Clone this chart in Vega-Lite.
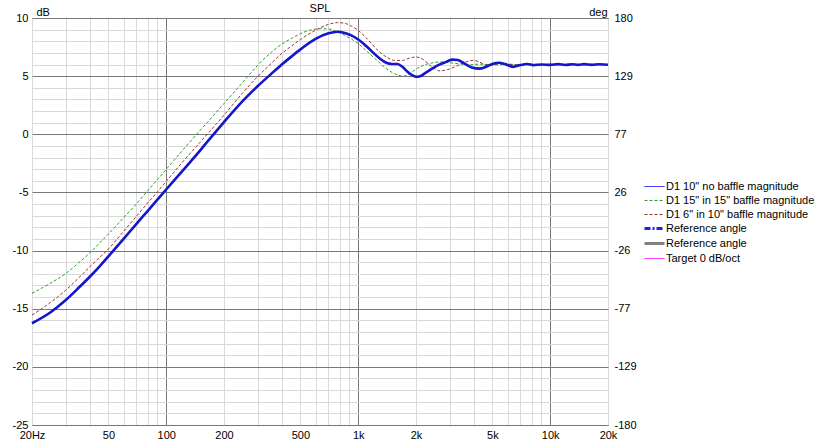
{
  "$schema": "https://vega.github.io/schema/vega-lite/v6.json",
  "width": 576,
  "height": 407,
  "autosize": {"type": "none"},
  "padding": {"left": 32, "top": 18, "right": 216, "bottom": 20},
  "background": "white",
  "title": {"text": "SPL", "fontSize": 11, "fontWeight": "normal", "font": "Liberation Sans", "color": "#000000", "anchor": "middle", "frame": "group", "offset": -17, "baseline": "alphabetic"},
  "config": {
    "font": "Liberation Sans",
    "view": {"stroke": "#6e6e6e", "strokeWidth": 1},
    "axis": {"labelFont": "Liberation Sans", "labelFontSize": 11, "labelColor": "#000000", "titleFont": "Liberation Sans", "titleFontSize": 11, "titleFontWeight": "normal", "titleColor": "#000000", "ticks": false, "domain": false, "gridWidth": 1, "gridOpacity": 1},
    "legend": {"labelFont": "Liberation Sans", "labelFontSize": 11, "labelColor": "#000000"}
  },
  "data": {"values": [
    {"series": "D1 10\" no baffle magnitude", "f": 20, "dB": -16.25},
    {"series": "D1 10\" no baffle magnitude", "f": 25, "dB": -15.3},
    {"series": "D1 10\" no baffle magnitude", "f": 30, "dB": -14.25},
    {"series": "D1 10\" no baffle magnitude", "f": 35, "dB": -13.2},
    {"series": "D1 10\" no baffle magnitude", "f": 40, "dB": -12.25},
    {"series": "D1 10\" no baffle magnitude", "f": 45, "dB": -11.35},
    {"series": "D1 10\" no baffle magnitude", "f": 50, "dB": -10.5},
    {"series": "D1 10\" no baffle magnitude", "f": 60, "dB": -9.0},
    {"series": "D1 10\" no baffle magnitude", "f": 70, "dB": -7.7},
    {"series": "D1 10\" no baffle magnitude", "f": 80, "dB": -6.6},
    {"series": "D1 10\" no baffle magnitude", "f": 90, "dB": -5.62},
    {"series": "D1 10\" no baffle magnitude", "f": 100, "dB": -4.75},
    {"series": "D1 10\" no baffle magnitude", "f": 120, "dB": -3.25},
    {"series": "D1 10\" no baffle magnitude", "f": 150, "dB": -1.4},
    {"series": "D1 10\" no baffle magnitude", "f": 165, "dB": -0.58},
    {"series": "D1 10\" no baffle magnitude", "f": 200, "dB": 1.05},
    {"series": "D1 10\" no baffle magnitude", "f": 250, "dB": 2.85},
    {"series": "D1 10\" no baffle magnitude", "f": 300, "dB": 4.15},
    {"series": "D1 10\" no baffle magnitude", "f": 350, "dB": 5.15},
    {"series": "D1 10\" no baffle magnitude", "f": 400, "dB": 6.0},
    {"series": "D1 10\" no baffle magnitude", "f": 450, "dB": 6.7},
    {"series": "D1 10\" no baffle magnitude", "f": 500, "dB": 7.3},
    {"series": "D1 10\" no baffle magnitude", "f": 600, "dB": 8.2},
    {"series": "D1 10\" no baffle magnitude", "f": 700, "dB": 8.68},
    {"series": "D1 10\" no baffle magnitude", "f": 780, "dB": 8.82},
    {"series": "D1 10\" no baffle magnitude", "f": 850, "dB": 8.72},
    {"series": "D1 10\" no baffle magnitude", "f": 920, "dB": 8.5},
    {"series": "D1 10\" no baffle magnitude", "f": 1000, "dB": 8.15},
    {"series": "D1 10\" no baffle magnitude", "f": 1100, "dB": 7.6},
    {"series": "D1 10\" no baffle magnitude", "f": 1200, "dB": 7.0},
    {"series": "D1 10\" no baffle magnitude", "f": 1300, "dB": 6.5},
    {"series": "D1 10\" no baffle magnitude", "f": 1400, "dB": 6.15},
    {"series": "D1 10\" no baffle magnitude", "f": 1500, "dB": 6.05},
    {"series": "D1 10\" no baffle magnitude", "f": 1600, "dB": 6.05},
    {"series": "D1 10\" no baffle magnitude", "f": 1700, "dB": 5.8},
    {"series": "D1 10\" no baffle magnitude", "f": 1800, "dB": 5.4},
    {"series": "D1 10\" no baffle magnitude", "f": 1900, "dB": 5.1},
    {"series": "D1 10\" no baffle magnitude", "f": 2000, "dB": 4.95},
    {"series": "D1 10\" no baffle magnitude", "f": 2100, "dB": 5.0},
    {"series": "D1 10\" no baffle magnitude", "f": 2250, "dB": 5.3},
    {"series": "D1 10\" no baffle magnitude", "f": 2400, "dB": 5.6},
    {"series": "D1 10\" no baffle magnitude", "f": 2550, "dB": 5.87},
    {"series": "D1 10\" no baffle magnitude", "f": 2800, "dB": 6.15},
    {"series": "D1 10\" no baffle magnitude", "f": 3100, "dB": 6.42},
    {"series": "D1 10\" no baffle magnitude", "f": 3300, "dB": 6.38},
    {"series": "D1 10\" no baffle magnitude", "f": 3600, "dB": 6.05},
    {"series": "D1 10\" no baffle magnitude", "f": 3900, "dB": 5.75},
    {"series": "D1 10\" no baffle magnitude", "f": 4300, "dB": 5.65},
    {"series": "D1 10\" no baffle magnitude", "f": 4700, "dB": 5.85},
    {"series": "D1 10\" no baffle magnitude", "f": 5000, "dB": 6.05},
    {"series": "D1 10\" no baffle magnitude", "f": 5400, "dB": 6.15},
    {"series": "D1 10\" no baffle magnitude", "f": 5800, "dB": 6.05},
    {"series": "D1 10\" no baffle magnitude", "f": 6400, "dB": 5.8},
    {"series": "D1 10\" no baffle magnitude", "f": 7000, "dB": 5.95},
    {"series": "D1 10\" no baffle magnitude", "f": 7550, "dB": 6.05},
    {"series": "D1 10\" no baffle magnitude", "f": 8200, "dB": 5.95},
    {"series": "D1 10\" no baffle magnitude", "f": 9000, "dB": 6.0},
    {"series": "D1 10\" no baffle magnitude", "f": 10000, "dB": 5.97},
    {"series": "D1 10\" no baffle magnitude", "f": 11000, "dB": 6.03},
    {"series": "D1 10\" no baffle magnitude", "f": 12000, "dB": 5.96},
    {"series": "D1 10\" no baffle magnitude", "f": 13000, "dB": 6.02},
    {"series": "D1 10\" no baffle magnitude", "f": 14000, "dB": 5.97},
    {"series": "D1 10\" no baffle magnitude", "f": 15000, "dB": 6.03},
    {"series": "D1 10\" no baffle magnitude", "f": 16500, "dB": 5.97},
    {"series": "D1 10\" no baffle magnitude", "f": 18000, "dB": 6.02},
    {"series": "D1 10\" no baffle magnitude", "f": 20000, "dB": 5.98},

    {"series": "D1 15\" in 15\" baffle magnitude", "f": 20, "dB": -13.67},
    {"series": "D1 15\" in 15\" baffle magnitude", "f": 25, "dB": -12.8},
    {"series": "D1 15\" in 15\" baffle magnitude", "f": 30, "dB": -11.97},
    {"series": "D1 15\" in 15\" baffle magnitude", "f": 35, "dB": -11.05},
    {"series": "D1 15\" in 15\" baffle magnitude", "f": 40, "dB": -10.2},
    {"series": "D1 15\" in 15\" baffle magnitude", "f": 45, "dB": -9.35},
    {"series": "D1 15\" in 15\" baffle magnitude", "f": 50, "dB": -8.58},
    {"series": "D1 15\" in 15\" baffle magnitude", "f": 55, "dB": -7.85},
    {"series": "D1 15\" in 15\" baffle magnitude", "f": 60, "dB": -7.17},
    {"series": "D1 15\" in 15\" baffle magnitude", "f": 70, "dB": -5.98},
    {"series": "D1 15\" in 15\" baffle magnitude", "f": 80, "dB": -4.86},
    {"series": "D1 15\" in 15\" baffle magnitude", "f": 90, "dB": -3.9},
    {"series": "D1 15\" in 15\" baffle magnitude", "f": 100, "dB": -3.02},
    {"series": "D1 15\" in 15\" baffle magnitude", "f": 120, "dB": -1.5},
    {"series": "D1 15\" in 15\" baffle magnitude", "f": 144, "dB": 0.0},
    {"series": "D1 15\" in 15\" baffle magnitude", "f": 175, "dB": 1.55},
    {"series": "D1 15\" in 15\" baffle magnitude", "f": 200, "dB": 2.65},
    {"series": "D1 15\" in 15\" baffle magnitude", "f": 235, "dB": 3.95},
    {"series": "D1 15\" in 15\" baffle magnitude", "f": 267, "dB": 5.0},
    {"series": "D1 15\" in 15\" baffle magnitude", "f": 300, "dB": 5.95},
    {"series": "D1 15\" in 15\" baffle magnitude", "f": 350, "dB": 7.0},
    {"series": "D1 15\" in 15\" baffle magnitude", "f": 400, "dB": 7.75},
    {"series": "D1 15\" in 15\" baffle magnitude", "f": 450, "dB": 8.25},
    {"series": "D1 15\" in 15\" baffle magnitude", "f": 500, "dB": 8.65},
    {"series": "D1 15\" in 15\" baffle magnitude", "f": 560, "dB": 8.95},
    {"series": "D1 15\" in 15\" baffle magnitude", "f": 640, "dB": 9.08},
    {"series": "D1 15\" in 15\" baffle magnitude", "f": 700, "dB": 9.05},
    {"series": "D1 15\" in 15\" baffle magnitude", "f": 780, "dB": 8.8},
    {"series": "D1 15\" in 15\" baffle magnitude", "f": 850, "dB": 8.5},
    {"series": "D1 15\" in 15\" baffle magnitude", "f": 920, "dB": 8.2},
    {"series": "D1 15\" in 15\" baffle magnitude", "f": 1000, "dB": 7.8},
    {"series": "D1 15\" in 15\" baffle magnitude", "f": 1100, "dB": 7.2},
    {"series": "D1 15\" in 15\" baffle magnitude", "f": 1250, "dB": 6.36},
    {"series": "D1 15\" in 15\" baffle magnitude", "f": 1400, "dB": 5.65},
    {"series": "D1 15\" in 15\" baffle magnitude", "f": 1550, "dB": 5.2},
    {"series": "D1 15\" in 15\" baffle magnitude", "f": 1720, "dB": 5.0},
    {"series": "D1 15\" in 15\" baffle magnitude", "f": 1850, "dB": 5.2},
    {"series": "D1 15\" in 15\" baffle magnitude", "f": 2000, "dB": 5.6},
    {"series": "D1 15\" in 15\" baffle magnitude", "f": 2200, "dB": 5.95},
    {"series": "D1 15\" in 15\" baffle magnitude", "f": 2450, "dB": 6.15},
    {"series": "D1 15\" in 15\" baffle magnitude", "f": 2670, "dB": 6.22},
    {"series": "D1 15\" in 15\" baffle magnitude", "f": 3000, "dB": 6.15},
    {"series": "D1 15\" in 15\" baffle magnitude", "f": 3400, "dB": 6.05},
    {"series": "D1 15\" in 15\" baffle magnitude", "f": 3800, "dB": 5.98},
    {"series": "D1 15\" in 15\" baffle magnitude", "f": 4300, "dB": 6.03},
    {"series": "D1 15\" in 15\" baffle magnitude", "f": 5000, "dB": 5.97},
    {"series": "D1 15\" in 15\" baffle magnitude", "f": 6000, "dB": 6.02},
    {"series": "D1 15\" in 15\" baffle magnitude", "f": 7000, "dB": 5.98},
    {"series": "D1 15\" in 15\" baffle magnitude", "f": 8000, "dB": 6.02},
    {"series": "D1 15\" in 15\" baffle magnitude", "f": 10000, "dB": 5.98},
    {"series": "D1 15\" in 15\" baffle magnitude", "f": 12500, "dB": 6.02},
    {"series": "D1 15\" in 15\" baffle magnitude", "f": 16000, "dB": 5.98},
    {"series": "D1 15\" in 15\" baffle magnitude", "f": 20000, "dB": 6.0},

    {"series": "D1 6\" in 10\" baffle magnitude", "f": 20, "dB": -15.55},
    {"series": "D1 6\" in 10\" baffle magnitude", "f": 25, "dB": -14.45},
    {"series": "D1 6\" in 10\" baffle magnitude", "f": 30, "dB": -13.4},
    {"series": "D1 6\" in 10\" baffle magnitude", "f": 35, "dB": -12.35},
    {"series": "D1 6\" in 10\" baffle magnitude", "f": 40, "dB": -11.4},
    {"series": "D1 6\" in 10\" baffle magnitude", "f": 45, "dB": -10.6},
    {"series": "D1 6\" in 10\" baffle magnitude", "f": 50, "dB": -9.86},
    {"series": "D1 6\" in 10\" baffle magnitude", "f": 60, "dB": -8.35},
    {"series": "D1 6\" in 10\" baffle magnitude", "f": 70, "dB": -7.05},
    {"series": "D1 6\" in 10\" baffle magnitude", "f": 80, "dB": -5.92},
    {"series": "D1 6\" in 10\" baffle magnitude", "f": 90, "dB": -4.95},
    {"series": "D1 6\" in 10\" baffle magnitude", "f": 100, "dB": -4.05},
    {"series": "D1 6\" in 10\" baffle magnitude", "f": 120, "dB": -2.5},
    {"series": "D1 6\" in 10\" baffle magnitude", "f": 150, "dB": -0.7},
    {"series": "D1 6\" in 10\" baffle magnitude", "f": 175, "dB": 0.55},
    {"series": "D1 6\" in 10\" baffle magnitude", "f": 200, "dB": 1.65},
    {"series": "D1 6\" in 10\" baffle magnitude", "f": 250, "dB": 3.55},
    {"series": "D1 6\" in 10\" baffle magnitude", "f": 301, "dB": 5.0},
    {"series": "D1 6\" in 10\" baffle magnitude", "f": 350, "dB": 6.05},
    {"series": "D1 6\" in 10\" baffle magnitude", "f": 400, "dB": 6.95},
    {"series": "D1 6\" in 10\" baffle magnitude", "f": 450, "dB": 7.6},
    {"series": "D1 6\" in 10\" baffle magnitude", "f": 500, "dB": 8.15},
    {"series": "D1 6\" in 10\" baffle magnitude", "f": 600, "dB": 8.95},
    {"series": "D1 6\" in 10\" baffle magnitude", "f": 700, "dB": 9.45},
    {"series": "D1 6\" in 10\" baffle magnitude", "f": 780, "dB": 9.6},
    {"series": "D1 6\" in 10\" baffle magnitude", "f": 850, "dB": 9.55},
    {"series": "D1 6\" in 10\" baffle magnitude", "f": 920, "dB": 9.3},
    {"series": "D1 6\" in 10\" baffle magnitude", "f": 1000, "dB": 8.94},
    {"series": "D1 6\" in 10\" baffle magnitude", "f": 1100, "dB": 8.3},
    {"series": "D1 6\" in 10\" baffle magnitude", "f": 1250, "dB": 7.3},
    {"series": "D1 6\" in 10\" baffle magnitude", "f": 1400, "dB": 6.65},
    {"series": "D1 6\" in 10\" baffle magnitude", "f": 1550, "dB": 6.35},
    {"series": "D1 6\" in 10\" baffle magnitude", "f": 1700, "dB": 6.35},
    {"series": "D1 6\" in 10\" baffle magnitude", "f": 1850, "dB": 6.55},
    {"series": "D1 6\" in 10\" baffle magnitude", "f": 2000, "dB": 6.65},
    {"series": "D1 6\" in 10\" baffle magnitude", "f": 2150, "dB": 6.5},
    {"series": "D1 6\" in 10\" baffle magnitude", "f": 2400, "dB": 5.85},
    {"series": "D1 6\" in 10\" baffle magnitude", "f": 2670, "dB": 5.45},
    {"series": "D1 6\" in 10\" baffle magnitude", "f": 2900, "dB": 5.55},
    {"series": "D1 6\" in 10\" baffle magnitude", "f": 3260, "dB": 5.87},
    {"series": "D1 6\" in 10\" baffle magnitude", "f": 3600, "dB": 6.2},
    {"series": "D1 6\" in 10\" baffle magnitude", "f": 3980, "dB": 6.36},
    {"series": "D1 6\" in 10\" baffle magnitude", "f": 4300, "dB": 6.2},
    {"series": "D1 6\" in 10\" baffle magnitude", "f": 4670, "dB": 5.94},
    {"series": "D1 6\" in 10\" baffle magnitude", "f": 5000, "dB": 5.95},
    {"series": "D1 6\" in 10\" baffle magnitude", "f": 5500, "dB": 6.1},
    {"series": "D1 6\" in 10\" baffle magnitude", "f": 6000, "dB": 6.05},
    {"series": "D1 6\" in 10\" baffle magnitude", "f": 6800, "dB": 5.95},
    {"series": "D1 6\" in 10\" baffle magnitude", "f": 7600, "dB": 6.05},
    {"series": "D1 6\" in 10\" baffle magnitude", "f": 8500, "dB": 5.98},
    {"series": "D1 6\" in 10\" baffle magnitude", "f": 10000, "dB": 6.02},
    {"series": "D1 6\" in 10\" baffle magnitude", "f": 12500, "dB": 5.98},
    {"series": "D1 6\" in 10\" baffle magnitude", "f": 16000, "dB": 6.02},
    {"series": "D1 6\" in 10\" baffle magnitude", "f": 20000, "dB": 5.99}
  ]},
  "layer": [
    {
      "mark": {"type": "line", "strokeWidth": 1, "interpolate": "monotone"},
      "encoding": {
        "x": {
          "field": "f", "type": "quantitative",
          "scale": {"type": "log", "domain": [20, 20000], "nice": false},
          "axis": {
            "title": null,
            "values": [20, 30, 40, 50, 60, 70, 80, 90, 100, 200, 300, 400, 500, 600, 700, 800, 900, 1000, 2000, 3000, 4000, 5000, 6000, 7000, 8000, 9000, 10000, 20000],
            "labelExpr": "indexof([20, 50, 100, 200, 500, 1000, 2000, 5000, 10000, 20000], datum.value) < 0 ? '' : (datum.value == 20 ? '20Hz' : (datum.value >= 1000 ? (datum.value / 1000) + 'k' : datum.value + ''))",
            "grid": true,
            "gridColor": {"condition": {"test": "datum.value == 100 || datum.value == 1000 || datum.value == 10000", "value": "#787878"}, "value": "#d9d9d9"},
            "labelPadding": 4,
            "labelFlush": false,
            "labelOverlap": false,
            "labelBound": false
          }
        },
        "y": {
          "field": "dB", "type": "quantitative",
          "scale": {"domain": [-25, 10], "nice": false, "zero": false},
          "axis": {
            "orient": "left",
            "values": [-25, -24, -23, -22, -21, -20, -19, -18, -17, -16, -15, -14, -13, -12, -11, -10, -9, -8, -7, -6, -5, -4, -3, -2, -1, 0, 1, 2, 3, 4, 5, 6, 7, 8, 9, 10],
            "labelExpr": "datum.value % 5 == 0 ? datum.value + '' : ''",
            "grid": true,
            "gridColor": {"condition": {"test": "datum.value % 5 == 0", "value": "#787878"}, "value": "#d9d9d9"},
            "labelPadding": 4,
            "labelFlush": false,
            "labelOverlap": false,
            "labelBound": false,
            "title": "dB",
            "titleAngle": 0,
            "titleAlign": "left",
            "titleBaseline": "alphabetic",
            "titleX": 4,
            "titleY": -3
          }
        },
        "color": {
          "field": "series", "type": "nominal",
          "scale": {
            "domain": ["D1 10\" no baffle magnitude", "D1 15\" in 15\" baffle magnitude", "D1 6\" in 10\" baffle magnitude", "Reference angle", "Reference angle ", "Target 0 dB/oct"],
            "range": ["#0000ff", "#2e9e2e", "#993333", "#2222e6", "#808080", "#ff00ff"]
          },
          "legend": {
            "title": null,
            "orient": "none",
            "legendX": 617,
            "legendY": 163,
            "symbolType": "stroke",
            "symbolSize": 400,
            "labelOffset": 6,
            "rowPadding": 2,
            "padding": 0,
            "labelFontSize": 11,
            "encode": {
              "symbols": {
                "update": {
                  "strokeWidth": {"signal": "datum.index == 3 || datum.index == 4 ? 3 : 1"},
                  "strokeDash": {"signal": "datum.index == 1 || datum.index == 2 ? [3, 2] : (datum.index == 3 ? [6, 2, 2, 2] : [1, 0])"}
                }
              }
            }
          }
        },
        "strokeDash": {
          "field": "series", "type": "nominal",
          "scale": {
            "domain": ["D1 10\" no baffle magnitude", "D1 15\" in 15\" baffle magnitude", "D1 6\" in 10\" baffle magnitude", "Reference angle", "Reference angle ", "Target 0 dB/oct"],
            "range": [[1, 0], [3, 2], [3, 2], [6, 2, 2, 2], [1, 0], [1, 0]]
          },
          "legend": null
        }
      }
    },
    {
      "transform": [{"filter": {"field": "series", "equal": "D1 10\" no baffle magnitude"}}],
      "mark": {"type": "line", "strokeWidth": 2.6, "color": "#1515cc", "interpolate": "monotone"},
      "encoding": {
        "x": {"field": "f", "type": "quantitative"},
        "y": {
          "field": "dB", "type": "quantitative",
          "axis": {
            "orient": "right",
            "values": [-25, -20, -15, -10, -5, 0, 5, 10],
            "labelExpr": "'' + round((datum.value + 7.5) * 360 / 35)",
            "grid": false,
            "labelAlign": "left",
            "labelPadding": 6,
            "labelFlush": false,
            "labelOverlap": false,
            "labelBound": false,
            "title": "deg",
            "titleAngle": 0,
            "titleAlign": "right",
            "titleBaseline": "alphabetic",
            "titleX": -1,
            "titleY": -3
          }
        }
      }
    }
  ],
  "resolve": {"axis": {"y": "independent"}}
}
